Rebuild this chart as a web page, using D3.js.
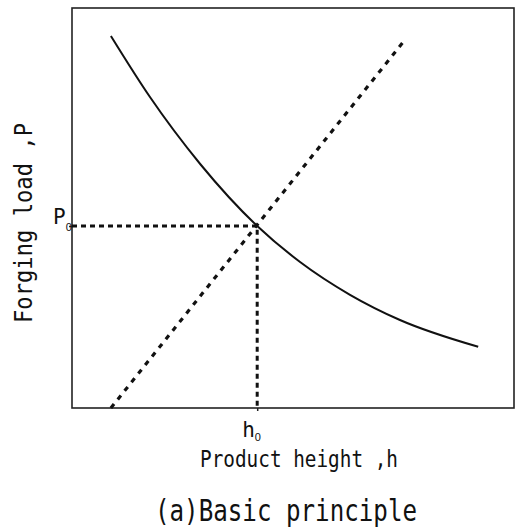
<!DOCTYPE html>
<html>
<head>
<meta charset="utf-8">
<script src="https://cdn.jsdelivr.net/npm/d3@7"></script>
<style>
  body { margin: 0; background: #fff; }
  text { font-family: "DejaVu Sans Mono", monospace; fill: #111; }
  .sub { font-family: "Liberation Sans", sans-serif; }
</style>
</head>
<body>
<div id="chart"></div>
<script>
// load curve (solid), arbitrary units 0-100
var loadH = [8.8, 17.6, 29.0, 41.9, 51.6, 62.9, 74.2, 91.9];
var loadP = [93, 77.8, 61, 45.5, 36.5, 28.3, 22.0, 15.3];
// capacity line (dashed)
var capH = [8.8, 75.3];
var capP = [0, 92];
// operating point
var h0 = 41.9, p0 = 45.5;

var margin = {top: 8, right: 3, bottom: 121, left: 72},
    width = 517 - margin.left - margin.right,
    height = 529 - margin.top - margin.bottom;

var x = d3.scaleLinear().domain([0, 100]).range([0, width]),
    y = d3.scaleLinear().domain([0, 100]).range([height, 0]);

var svg = d3.select("#chart").append("svg")
    .attr("width", 517)
    .attr("height", 529);

var g = svg.append("g")
    .attr("transform", "translate(" + margin.left + "," + margin.top + ")");

// frame
g.append("rect")
    .attr("width", width)
    .attr("height", height)
    .attr("fill", "none")
    .attr("stroke", "#222")
    .attr("stroke-width", 1.6);

// axes carry only the P0 / h0 ticks
var yAxis = g.append("g")
    .call(d3.axisLeft(y).tickValues([p0]).tickSize(3).tickFormat(""));
yAxis.select(".domain").remove();
yAxis.selectAll("line").attr("stroke", "#222").attr("stroke-width", 1.5);

var xAxis = g.append("g")
    .attr("transform", "translate(0," + height + ")")
    .call(d3.axisBottom(x).tickValues([h0]).tickSize(3).tickFormat(""));
xAxis.select(".domain").remove();
xAxis.selectAll("line").attr("stroke", "#222").attr("stroke-width", 1.5);

// guide lines to the operating point
g.append("path")
    .attr("d", d3.line()([[x(0), y(p0)], [x(h0), y(p0)], [x(h0), y(0)]]))
    .attr("fill", "none")
    .attr("stroke", "#111")
    .attr("stroke-width", 3)
    .attr("stroke-dasharray", "5,4");

var line = d3.line()
    .x(function(d) { return x(d[0]); })
    .y(function(d) { return y(d[1]); });

// dashed capacity line
g.append("path")
    .attr("d", line(d3.zip(capH, capP)))
    .attr("fill", "none")
    .attr("stroke", "#111")
    .attr("stroke-width", 3.2)
    .attr("stroke-dasharray", "5,6");

// load curve
g.append("path")
    .attr("d", line.curve(d3.curveMonotoneX)(d3.zip(loadH, loadP)))
    .attr("fill", "none")
    .attr("stroke", "#111")
    .attr("stroke-width", 2);

// P0 label
var pl = g.append("text")
    .attr("x", 53 - margin.left)
    .attr("y", y(p0) - 2)
    .style("font-size", "21px");
pl.append("tspan").text("P");
pl.append("tspan").attr("class", "sub").attr("dx", 0).attr("dy", 7).style("font-size", "11px").text("0");

// h0 label
var hl = g.append("text")
    .attr("x", x(h0) - 15)
    .attr("y", height + 29)
    .style("font-size", "21px");
hl.append("tspan").text("h");
hl.append("tspan").attr("class", "sub").attr("dx", 0).attr("dy", 4).style("font-size", "11px").text("0");

// axis titles
svg.append("text")
    .attr("x", 200)
    .attr("y", 467)
    .attr("textLength", 198)
    .attr("lengthAdjust", "spacingAndGlyphs")
    .style("font-size", "23px")
    .text("Product height ,h");

svg.append("text")
    .attr("transform", "translate(32,323) rotate(-90)")
    .attr("textLength", 200)
    .attr("lengthAdjust", "spacingAndGlyphs")
    .style("font-size", "24px")
    .text("Forging load ,P");

svg.append("text")
    .attr("x", 155)
    .attr("y", 521)
    .attr("textLength", 262)
    .attr("lengthAdjust", "spacingAndGlyphs")
    .style("font-size", "30px")
    .text("(a)Basic principle");
</script>
</body>
</html>
